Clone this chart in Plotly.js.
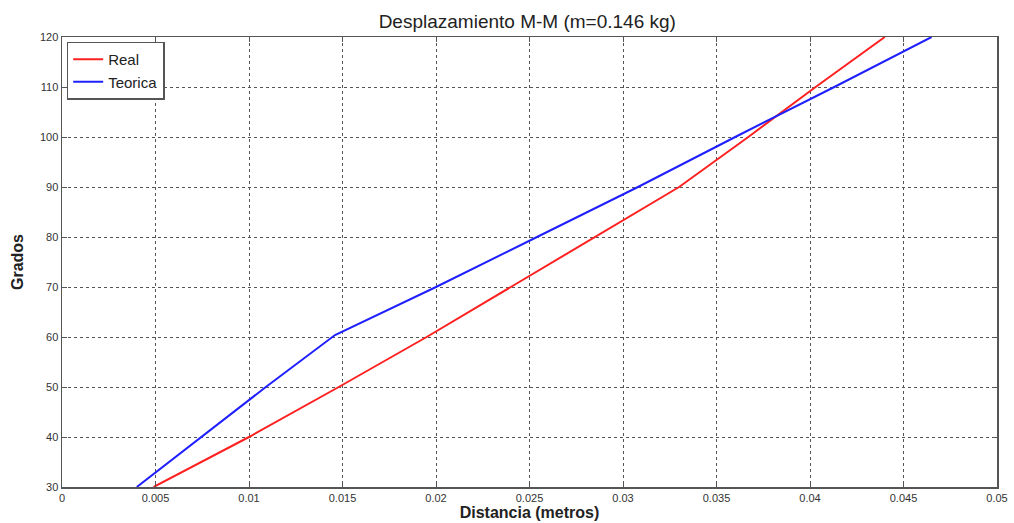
<!DOCTYPE html>
<html>
<head>
<meta charset="utf-8">
<script src="https://cdn.plot.ly/plotly-3.0.1.min.js"></script>
<style>html,body{margin:0;padding:0;background:#fff;}#chart{width:1014px;height:523px;}</style>
</head>
<body>
<div id="chart"></div>
<script>
const grados = [30, 40, 50, 60, 70, 80, 90, 100, 110, 120];
const realDist = [0.0049, 0.0100, 0.0148, 0.0195, 0.0240, 0.0285, 0.0330, 0.0367, 0.0403, 0.0440];
const teoGrados = [30, 40, 50, 60.4, 70, 80, 90, 100, 110, 120];
const teoDist = [0.0040, 0.00745, 0.0109, 0.0146, 0.0200, 0.0254, 0.0308, 0.0360, 0.0413, 0.0465];
const xTicks = [0, 0.005, 0.01, 0.015, 0.02, 0.025, 0.03, 0.035, 0.04, 0.045, 0.05];
const xTickText = ['0', '0.005', '0.01', '0.015', '0.02', '0.025', '0.03', '0.035', '0.04', '0.045', '0.05'];
const yTicks = [30, 40, 50, 60, 70, 80, 90, 100, 110, 120];

const traces = [
  {x: realDist, y: grados, name: 'Real', mode: 'lines', line: {color: '#ff2020', width: 2}},
  {x: teoDist, y: teoGrados, name: 'Teorica', mode: 'lines', line: {color: '#2020ff', width: 2}}
];

const axisCommon = {
  showline: true, mirror: 'ticks', linecolor: '#555', linewidth: 1.5,
  ticks: 'inside', ticklen: 5, tickcolor: '#555',
  showgrid: true, gridcolor: '#555', griddash: 'dot', gridwidth: 1,
  zeroline: false,
  tickfont: {family: 'Liberation Sans Narrow, Liberation Sans, Arial', size: 11, color: '#333'}
};

const layout = {
  width: 1014, height: 523,
  margin: {l: 62, r: 17, t: 37, b: 36},
  paper_bgcolor: '#fff', plot_bgcolor: '#fff',
  title: {text: 'Desplazamiento M-M (m=0.146 kg)', x: 0.52, xanchor: 'center', y: 0.96, yanchor: 'middle',
          font: {family: 'Liberation Sans, Arial', size: 19, color: '#222'}},
  xaxis: Object.assign({}, axisCommon, {
    range: [0, 0.05], tickvals: xTicks, ticktext: xTickText,
    title: {text: '<b>Distancia (metros)</b>', standoff: 2, font: {family: 'Liberation Sans, Arial', size: 16, color: '#222'}}
  }),
  yaxis: Object.assign({}, axisCommon, {
    range: [30, 120], tickvals: yTicks,
    title: {text: '<b>Grados</b>', standoff: 12, font: {family: 'Liberation Sans, Arial', size: 16, color: '#222'}}
  }),
  showlegend: true,
  legend: {x: 0.005, y: 0.99, xanchor: 'left', yanchor: 'top', bgcolor: '#fff', bordercolor: '#555', borderwidth: 1.5,
           font: {family: 'Liberation Sans, Arial', size: 15, color: '#222'}, tracegroupgap: 0, itemwidth: 30}
};

Plotly.newPlot('chart', traces, layout, {displayModeBar: false, staticPlot: true});
</script>
</body>
</html>
